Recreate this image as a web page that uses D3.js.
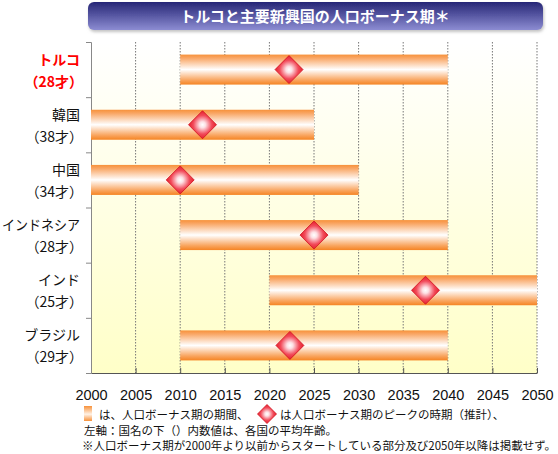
<!DOCTYPE html>
<html><head><meta charset="utf-8">
<script src="https://cdn.jsdelivr.net/npm/d3@7"></script>
<style>
html,body{margin:0;padding:0;background:#fff;}
svg{display:block;font-family:"Noto Sans CJK JP","Noto Sans",sans-serif;}
</style></head>
<body><svg id="c" width="558" height="454"></svg>
<script>
const countries = ["トルコ","韓国","中国","インドネシア","インド","ブラジル"];
const ages = ["（28才）","（38才）","（34才）","（28才）","（25才）","（29才）"];
const bonusStart = [2010,2000,2000,2010,2020,2010];
const bonusEnd = [2040,2025,2030,2040,2050,2040];
const peakYear = [2022.2,2012.5,2010,2025,2037.5,2022.3];
const xTicks = [2000,2005,2010,2015,2020,2025,2030,2035,2040,2045,2050];
const titleText = "トルコと主要新興国の人口ボーナス期＊";
const legend1a = "は、人口ボーナス期の期間、";
const legend1b = "は人口ボーナス期のピークの時期（推計）、";
const legend2 = "左軸：国名の下（）内数値は、各国の平均年齢。";
const legend3 = "※人口ボーナス期が2000年より以前からスタートしている部分及び2050年以降は掲載せず。";

const svg = d3.select("#c");
const L=91, R=537, T=42, B=373;
const x = d3.scaleLinear().domain([2000,2050]).range([L,R]);
const y = d3.scaleBand().domain(countries).range([T,B]);

const defs = svg.append("defs");
const tg = defs.append("linearGradient").attr("id","tg").attr("x1",0).attr("y1",0).attr("x2",0).attr("y2",1);
tg.append("stop").attr("offset","0%").attr("stop-color","#262676");
tg.append("stop").attr("offset","100%").attr("stop-color","#8c8cd2");
const bg = defs.append("linearGradient").attr("id","bg").attr("x1",0).attr("y1",0).attr("x2",0).attr("y2",1);
bg.append("stop").attr("offset","0%").attr("stop-color","#ffffff");
bg.append("stop").attr("offset","100%").attr("stop-color","#ffffc8");
const og = defs.append("linearGradient").attr("id","og").attr("x1",0).attr("y1",0).attr("x2",0).attr("y2",1);
og.append("stop").attr("offset","0%").attr("stop-color","#f7913a");
og.append("stop").attr("offset","12%").attr("stop-color","#f9a766");
og.append("stop").attr("offset","50%").attr("stop-color","#ffffff");
og.append("stop").attr("offset","85%").attr("stop-color","#f9a55f");
og.append("stop").attr("offset","100%").attr("stop-color","#f58423");
const og2 = defs.append("linearGradient").attr("id","og2").attr("x1",0).attr("y1",0).attr("x2",0).attr("y2",1);
og2.append("stop").attr("offset","0%").attr("stop-color","#f7913a");
og2.append("stop").attr("offset","55%").attr("stop-color","#fff2e6");
og2.append("stop").attr("offset","100%").attr("stop-color","#f7913a");
const dg = defs.append("radialGradient").attr("id","dg").attr("cx","50%").attr("cy","50%").attr("r","55%");
dg.append("stop").attr("offset","0%").attr("stop-color","#ffffff");
dg.append("stop").attr("offset","20%").attr("stop-color","#fde0e4");
dg.append("stop").attr("offset","60%").attr("stop-color","#f24a5a");
dg.append("stop").attr("offset","100%").attr("stop-color","#e0121f");
const sh = defs.append("filter").attr("id","sh").attr("x","-5%").attr("y","-20%").attr("width","110%").attr("height","150%");
sh.append("feDropShadow").attr("dx",1).attr("dy",2).attr("stdDeviation",1.5).attr("flood-color","#999").attr("flood-opacity",0.6);

// title
svg.append("rect").attr("x",88).attr("y",2).attr("width",455).attr("height",28).attr("rx",6)
  .attr("fill","url(#tg)").attr("filter","url(#sh)");
svg.append("text").attr("x",315).attr("y",21.5).attr("text-anchor","middle")
  .attr("font-size",15).attr("font-weight","bold").attr("fill","#fff").text(titleText);

// plot background
svg.append("rect").attr("x",L).attr("y",T).attr("width",R-L).attr("height",B-T).attr("fill","url(#bg)");

// gridlines
svg.append("g").selectAll("line").data(xTicks.slice(1)).join("line")
  .attr("x1",d=>x(d)).attr("x2",d=>x(d)).attr("y1",T).attr("y2",B)
  .attr("stroke","#777").attr("stroke-width",1).attr("stroke-dasharray","1.5,1.5");

// bottom axis
const xAxis = d3.axisBottom(x).tickValues(xTicks).tickFormat(d3.format("d")).tickSizeInner(-5).tickSizeOuter(0).tickPadding(17);
const gx = svg.append("g").attr("transform",`translate(0,${B})`).call(xAxis);
gx.select(".domain").attr("stroke","#555");
gx.selectAll(".tick line").attr("stroke","#555");
gx.selectAll("text").attr("font-family","'Liberation Sans',Arial,sans-serif").attr("font-size",14.5).attr("fill","#111");

// left axis
const yAxis = d3.axisLeft(d3.scaleLinear().domain([0,6]).range([T,B])).ticks(6).tickSize(5).tickFormat("");
const gy = svg.append("g").attr("transform",`translate(${L},0)`).call(yAxis);
gy.select(".domain").attr("stroke","#888");
gy.selectAll(".tick line").attr("stroke","#888");

// bars
const bh = 30;
svg.append("g").selectAll("rect").data(countries).join("rect")
  .attr("x",(d,i)=>x(bonusStart[i])).attr("width",(d,i)=>x(bonusEnd[i])-x(bonusStart[i]))
  .attr("y",d=>y(d)+y.bandwidth()/2-bh/2).attr("height",bh).attr("fill","url(#og)");

// diamonds
const ds = 14;
svg.append("g").selectAll("path").data(countries).join("path")
  .attr("d",(d,i)=>{const cx=x(peakYear[i]), cy=y(d)+y.bandwidth()/2;
    return `M${cx},${cy-ds}L${cx+ds},${cy}L${cx},${cy+ds}L${cx-ds},${cy}Z`;})
  .attr("fill","url(#dg)").attr("stroke","#d0101c").attr("stroke-width",0.8);

// labels
const lab = svg.append("g").attr("font-size",14).attr("text-anchor","end");
lab.selectAll("text.n").data(countries).join("text").attr("class","n")
  .attr("x",80).attr("y",d=>y(d)+y.bandwidth()/2-5)
  .attr("fill",(d,i)=>i===0?"#ff0000":"#111").attr("font-weight",(d,i)=>i===0?"bold":"normal").text(d=>d)
  .each(function(){ const w=this.getComputedTextLength(); if(w>78){ d3.select(this).attr("textLength",78).attr("lengthAdjust","spacingAndGlyphs"); } });
lab.selectAll("text.a").data(countries).join("text").attr("class","a")
  .attr("x",83).attr("y",d=>y(d)+y.bandwidth()/2+17)
  .attr("fill",(d,i)=>i===0?"#ff0000":"#111").attr("font-weight",(d,i)=>i===0?"bold":"normal").text((d,i)=>ages[i]);

// legend
const lg = svg.append("g").attr("font-size",11.5).attr("fill","#111");
lg.append("rect").attr("x",84).attr("y",406).attr("width",8).attr("height",15).attr("fill","url(#og2)");
lg.append("text").attr("x",99).attr("y",419).attr("fill","#111").text(legend1a);
const lx=267, ly=414, lr=9.5;
lg.append("path").attr("d",`M${lx},${ly-lr}L${lx+lr},${ly}L${lx},${ly+lr}L${lx-lr},${ly}Z`)
  .attr("fill","url(#dg)").attr("stroke","#d0101c").attr("stroke-width",0.8);
lg.append("text").attr("x",280).attr("y",419).attr("fill","#111").text(legend1b);
lg.append("text").attr("x",84).attr("y",434.5).attr("fill","#111").text(legend2);
lg.append("text").attr("x",82).attr("y",450).attr("fill","#111").attr("textLength",474).attr("lengthAdjust","spacingAndGlyphs").text(legend3);
</script></body></html>
